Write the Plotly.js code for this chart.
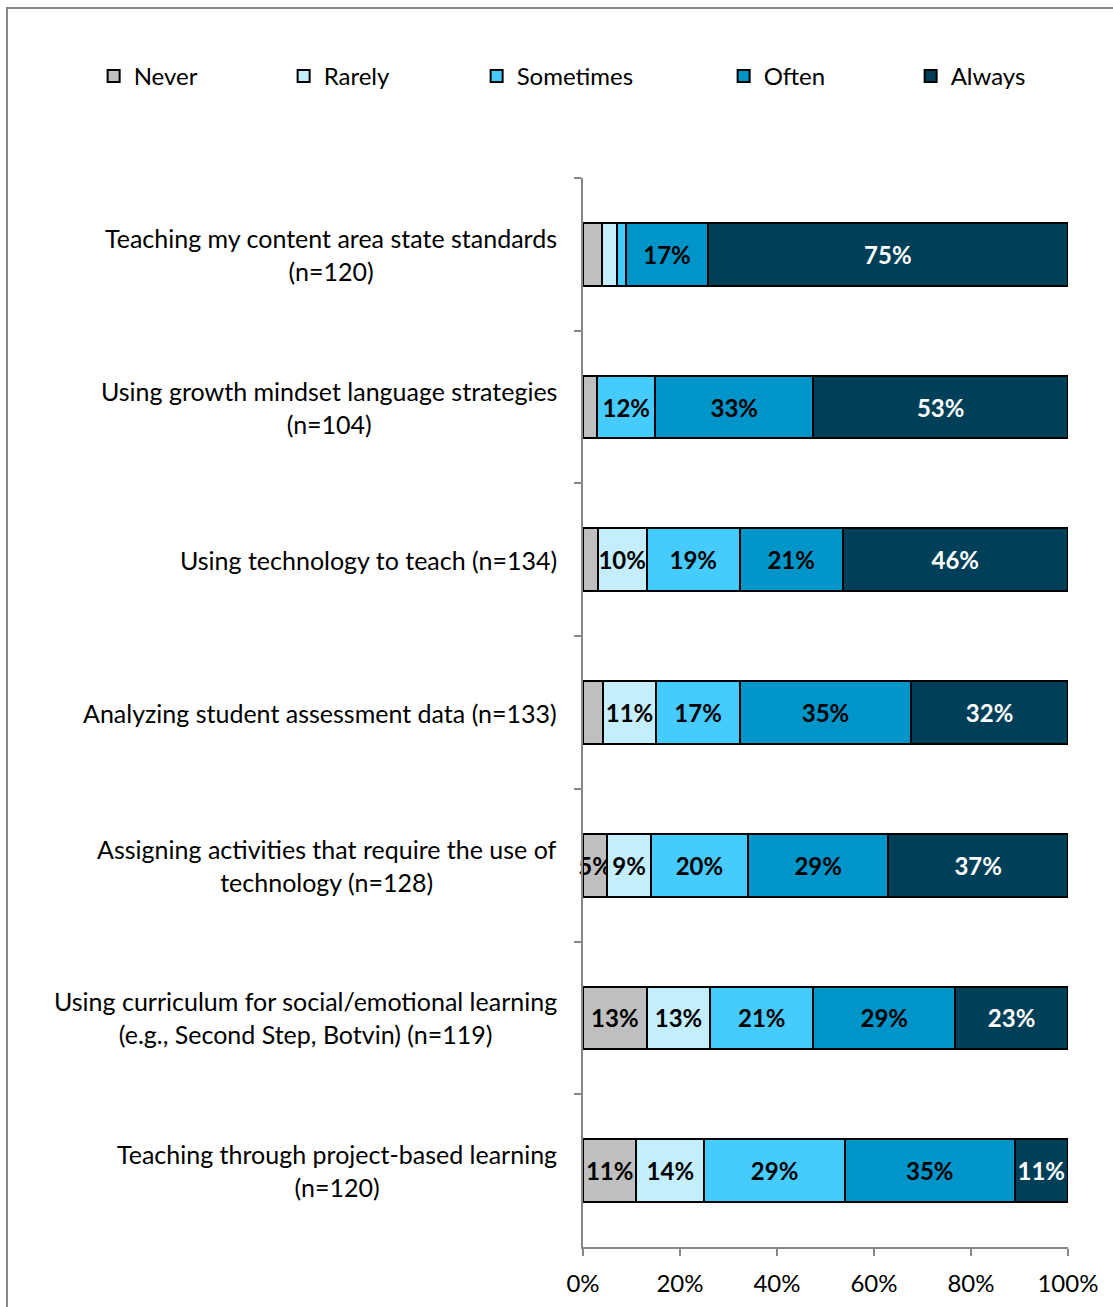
<!DOCTYPE html>
<html>
<head>
<meta charset="utf-8">
<script src="https://cdn.plot.ly/plotly-3.0.1.min.js"></script>
<style>
  html, body { margin: 0; padding: 0; background: #fff; }
  #wrap { position: relative; width: 1113px; height: 1307px; overflow: hidden; }
  #chart { width: 1113px; height: 1307px; }
  #frame { position: absolute; left: 6px; top: 7px; width: 1200px; height: 1400px;
           border-left: 2px solid #878787; border-top: 2px solid #878787; pointer-events: none; }
</style>
</head>
<body>
<div id="wrap">
  <div id="chart"></div>
  <div id="frame"></div>
</div>
<script>
// ---- data ----
const categories = [
  "Teaching my content area state standards<br>(n=120)",
  "Using growth mindset language strategies<br>(n=104)",
  "Using technology to teach (n=134)",
  "Analyzing student assessment data (n=133)",
  "Assigning activities that require the use of<br>technology (n=128)",
  "Using curriculum for social/emotional learning<br>(e.g., Second Step, Botvin) (n=119)",
  "Teaching through project-based learning<br>(n=120)"
];
const seriesNames = ["Never", "Rarely", "Sometimes", "Often", "Always"];
const never     = [4, 3, 3, 4, 5, 13, 11];
const rarely    = [3, 0, 10, 11, 9, 13, 14];
const sometimes = [2, 12, 19, 17, 20, 21, 29];
const often     = [17, 33, 21, 35, 29, 29, 35];
const always    = [75, 53, 46, 32, 37, 23, 11];
const xTicks = [0, 20, 40, 60, 80, 100];

// ---- styles ----
const colors = ["#BFBFBF", "#C5EEFD", "#46CBFF", "#0095C9", "#003F58"];
const textColors = ["#000000", "#000000", "#000000", "#000000", "#FFFFFF"];
const legendWidths = [145, 148, 202, 142, 80];
const FONT = "Lato, 'Open Sans', sans-serif";
const FS = 24;

const values = [never, rarely, sometimes, often, always];

const traces = values.map((vals, i) => ({
  type: "bar",
  orientation: "h",
  name: seriesNames[i],
  y: categories,
  x: vals,
  text: vals.map(v => v >= 5 ? v + "%" : ""),
  texttemplate: "%{text}",
  textposition: "inside",
  insidetextanchor: "middle",
  constraintext: "none",
  textangle: 0,
  cliponaxis: false,
  textfont: { family: FONT, size: FS, color: textColors[i], weight: "bold" },
  marker: { color: colors[i], line: { color: "#000000", width: 2 } },
  legendwidth: legendWidths[i],
  hoverinfo: "skip"
}));

const annotations = categories.map(c => ({
  xref: "paper", yref: "y",
  x: 0, y: c,
  xanchor: "right", yanchor: "middle",
  xshift: -24,
  align: "center",
  text: c,
  showarrow: false,
  font: { family: FONT, size: 25, color: "#000000" }
}));

const layout = {
  width: 1113, height: 1307,
  margin: { l: 583, r: 45, t: 178, b: 60, pad: 0 },
  paper_bgcolor: "#ffffff", plot_bgcolor: "#ffffff",
  barmode: "stack",
  barnorm: "percent",
  bargap: 0.59,
  font: { family: FONT, size: FS, color: "#000000" },
  showlegend: true,
  legend: {
    orientation: "h",
    x: -1.009, xanchor: "left",
    y: 1.095, yanchor: "middle",
    traceorder: "normal",
    font: { family: FONT, size: FS, color: "#000000" },
    itemclick: false, itemdoubleclick: false
  },
  xaxis: {
    range: [0, 100.02],
    tickvals: xTicks,
    ticktext: xTicks.map(t => t + "%"),
    showgrid: false, zeroline: false,
    showline: true, linecolor: "#878787", linewidth: 2,
    ticks: "outside", ticklen: 7, tickwidth: 2, tickcolor: "#878787",
    ticklabelstandoff: 7,
    tickfont: { family: FONT, size: FS, color: "#000000" },
    fixedrange: true
  },
  yaxis: {
    type: "category",
    autorange: "reversed",
    showticklabels: false,
    showgrid: false, zeroline: false,
    showline: true, linecolor: "#878787", linewidth: 2,
    ticks: "outside", tickson: "boundaries", ticklen: 7, tickwidth: 2, tickcolor: "#878787",
    fixedrange: true
  },
  annotations: annotations
};

Plotly.newPlot("chart", traces, layout, { displayModeBar: false, staticPlot: true });
</script>
</body>
</html>
